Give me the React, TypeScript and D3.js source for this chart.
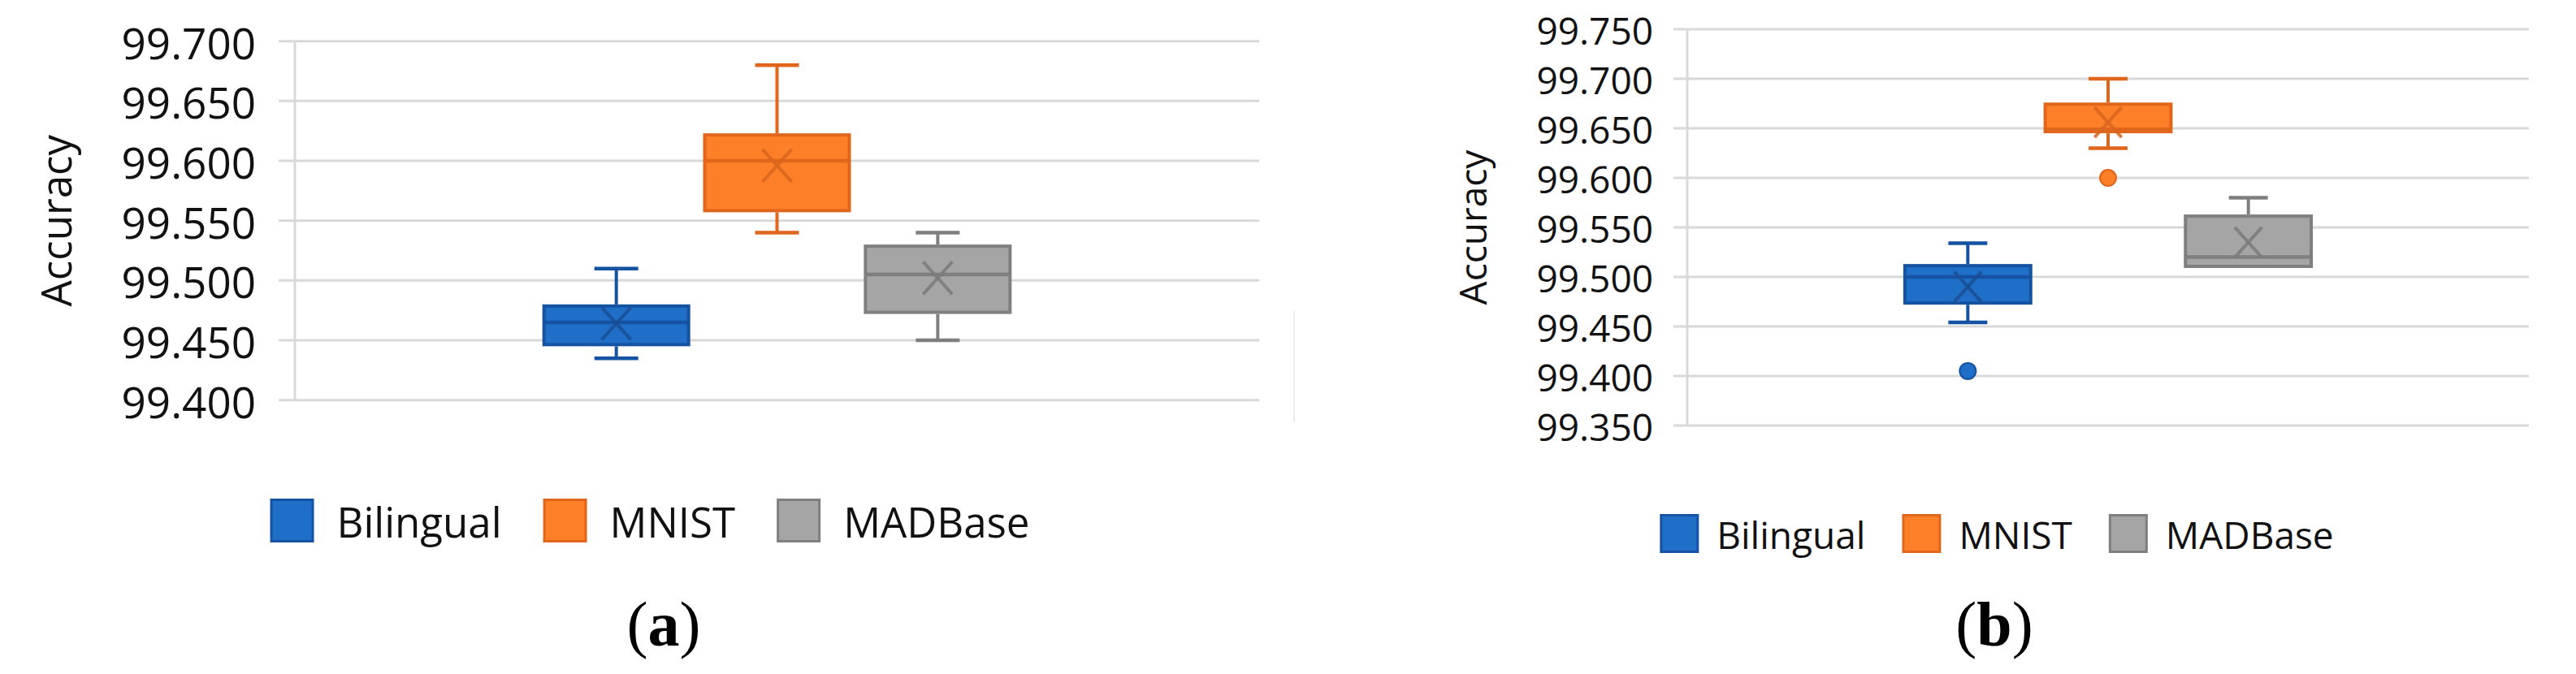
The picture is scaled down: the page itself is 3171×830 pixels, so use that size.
import React, { useEffect, useRef } from 'react';
import * as d3 from 'd3';

const seriesNames = ['Bilingual', 'MNIST', 'MADBase'];

// panel (a)
const ticksA = [99.4, 99.45, 99.5, 99.55, 99.6, 99.65, 99.7];
const minA = [99.435, 99.54, 99.45];
const q1A = [99.445, 99.557, 99.472];
const medianA = [99.465, 99.6, 99.505];
const q3A = [99.48, 99.623, 99.53];
const maxA = [99.51, 99.68, 99.54];
const meanA = [99.464, 99.596, 99.502];
const outliersA = [[], [], []];

// panel (b)
const ticksB = [99.35, 99.4, 99.45, 99.5, 99.55, 99.6, 99.65, 99.7, 99.75];
const minB = [99.454, 99.63, 99.509];
const q1B = [99.472, 99.645, 99.509];
const medianB = [99.5, 99.649, 99.52];
const q3B = [99.513, 99.676, 99.563];
const maxB = [99.534, 99.7, 99.58];
const meanB = [99.49, 99.656, 99.535];
const outliersB = [[99.405], [99.6], []];

const fills = ['#1f6fc8', '#fd7f27', '#a5a5a5'];
const strokes = ['#1553a2', '#e0661c', '#7f7f7f'];
const crosses = ['#1a4f95', '#d9661f', '#7b7b7b'];

const FONT = '"Open Sans", sans-serif';

const panels = [
  {
    ticks: ticksA, min: minA, q1: q1A, median: medianA, q3: q3A, max: maxA, mean: meanA, outliers: outliersA,
    left: 363, right: 1550, top: 50.7, bottom: 492.7,
    tickOut: 20, labelGap: 28, labelDy: 22, fontSize: 53,
    titleX: 88, titleSize: 51,
    capW: 54, crossSize: 40,
    legendCx: 800, legendTop: 614, legendSq: 54, legendBase: 662, legendSize: 51, legendGap1: 28, legendGap2: 51,
    caption: 'a', captionX: 817,
  },
  {
    ticks: ticksB, min: minB, q1: q1B, median: medianB, q3: q3B, max: maxB, mean: meanB, outliers: outliersB,
    left: 2077, right: 3113, top: 36, bottom: 524,
    tickOut: 17, labelGap: 25, labelDy: 19, fontSize: 46,
    titleX: 1830, titleSize: 46,
    capW: 48, crossSize: 37,
    legendCx: 2458, legendTop: 633, legendSq: 48, legendBase: 676, legendSize: 46, legendGap1: 22, legendGap2: 45,
    caption: 'b', captionX: 2455,
  },
];

const drawPanel = (svg, p) => {
  const g = svg.append('g');
  const W = p.right - p.left;
  const y = d3.scaleLinear().domain([p.ticks[0], p.ticks[p.ticks.length - 1]]).range([p.bottom, p.top]);
  const x = d3
    .scaleBand()
    .domain(seriesNames)
    .range([p.left + W / 4, p.right - W / 4])
    .paddingInner(0.08)
    .paddingOuter(0.04);

  // gridlines
  g.selectAll('line.grid')
    .data(p.ticks)
    .join('line')
    .attr('x1', p.left - p.tickOut)
    .attr('x2', p.right)
    .attr('y1', (d) => y(d))
    .attr('y2', (d) => y(d))
    .attr('stroke', '#d9d9d9')
    .attr('stroke-width', 3);

  g.append('line')
    .attr('x1', p.left)
    .attr('x2', p.left)
    .attr('y1', p.top)
    .attr('y2', p.bottom)
    .attr('stroke', '#d9d9d9')
    .attr('stroke-width', 3);

  // tick labels
  g.selectAll('text.tick')
    .data(p.ticks)
    .join('text')
    .attr('x', p.left - p.tickOut - p.labelGap)
    .attr('y', (d) => y(d) + p.labelDy)
    .attr('text-anchor', 'end')
    .attr('font-family', FONT)
    .attr('font-size', p.fontSize)
    .attr('fill', '#111')
    .text((d) => d3.format('.3f')(d));

  // axis title
  g.append('text')
    .attr('transform', `translate(${p.titleX},${(p.top + p.bottom) / 2}) rotate(-90)`)
    .attr('text-anchor', 'middle')
    .attr('font-family', FONT)
    .attr('font-size', p.titleSize)
    .attr('fill', '#111')
    .text('Accuracy');

  // boxes
  seriesNames.forEach((name, i) => {
    const bx = x(name);
    const bw = x.bandwidth();
    const cx = bx + bw / 2;
    const bg = g.append('g');

    // whiskers
    [[p.max[i], p.q3[i]], [p.min[i], p.q1[i]]].forEach(([end, edge]) => {
      if (Math.abs(end - edge) < 1e-9) return;
      bg.append('line')
        .attr('x1', cx).attr('x2', cx)
        .attr('y1', y(end)).attr('y2', y(edge))
        .attr('stroke', strokes[i]).attr('stroke-width', 4);
      bg.append('line')
        .attr('x1', cx - p.capW / 2).attr('x2', cx + p.capW / 2)
        .attr('y1', y(end)).attr('y2', y(end))
        .attr('stroke', strokes[i]).attr('stroke-width', 4.5);
    });

    bg.append('rect')
      .attr('x', bx + 2)
      .attr('y', y(p.q3[i]) + 2)
      .attr('width', bw - 4)
      .attr('height', y(p.q1[i]) - y(p.q3[i]) - 4)
      .attr('fill', fills[i])
      .attr('stroke', strokes[i])
      .attr('stroke-width', 4);

    bg.append('line')
      .attr('x1', bx + 2).attr('x2', bx + bw - 2)
      .attr('y1', y(p.median[i])).attr('y2', y(p.median[i]))
      .attr('stroke', strokes[i]).attr('stroke-width', 4.5);

    // mean marker
    const s = p.crossSize / 2;
    const my = y(p.mean[i]);
    [[-1, -1, 1, 1], [1, -1, -1, 1]].forEach(([a, b, c, d]) => {
      bg.append('line')
        .attr('x1', cx + a * s * 0.9).attr('y1', my + b * s)
        .attr('x2', cx + c * s * 0.9).attr('y2', my + d * s)
        .attr('stroke', crosses[i]).attr('stroke-width', 4).attr('opacity', 0.85);
    });

    // outliers
    bg.selectAll('circle')
      .data(p.outliers[i])
      .join('circle')
      .attr('cx', cx)
      .attr('cy', (d) => y(d))
      .attr('r', 10)
      .attr('fill', fills[i])
      .attr('stroke', strokes[i])
      .attr('stroke-width', 2);
  });

  // legend
  const lg = g.append('g');
  const items = seriesNames.map((name, i) => {
    const it = lg.append('g');
    it.append('rect')
      .attr('width', p.legendSq - 3).attr('height', p.legendSq - 3)
      .attr('x', 1.5).attr('y', p.legendTop + 1.5)
      .attr('fill', fills[i]).attr('stroke', strokes[i]).attr('stroke-width', 3);
    const t = it.append('text')
      .attr('x', p.legendSq + p.legendGap1)
      .attr('y', p.legendBase)
      .attr('font-family', FONT)
      .attr('font-size', p.legendSize)
      .attr('fill', '#111')
      .text(name);
    const w = p.legendSq + p.legendGap1 + t.node().getComputedTextLength();
    return { it, w };
  });
  const total = d3.sum(items, (d) => d.w) + p.legendGap2 * (items.length - 1);
  let cur = p.legendCx - total / 2;
  items.forEach(({ it, w }) => {
    it.attr('transform', `translate(${cur},0)`);
    cur += w + p.legendGap2;
  });

  // caption
  const cap = g.append('text')
    .attr('x', p.captionX)
    .attr('y', 795)
    .attr('text-anchor', 'middle')
    .attr('font-family', '"Liberation Serif", serif')
    .attr('font-size', 78)
    .attr('fill', '#000');
  cap.append('tspan').text('(');
  cap.append('tspan').attr('font-weight', 'bold').text(p.caption);
  cap.append('tspan').text(')');
};

const App = () => {
  const ref = useRef(null);

  useEffect(() => {
    const svg = d3.select(ref.current);
    svg.selectAll('*').remove();
    svg.append('rect').attr('width', 3171).attr('height', 830).attr('fill', '#fff');
    // faint chart border remnant at right of panel (a)
    svg.append('line')
      .attr('x1', 1593).attr('x2', 1593).attr('y1', 383).attr('y2', 520)
      .attr('stroke', '#ececec').attr('stroke-width', 2);
    panels.forEach((p) => drawPanel(svg, p));
  }, []);

  return (
    <svg
      ref={ref}
      width={3171}
      height={830}
      style={{ position: 'absolute', left: 0, top: 0, display: 'block' }}
    />
  );
};

export default App;
